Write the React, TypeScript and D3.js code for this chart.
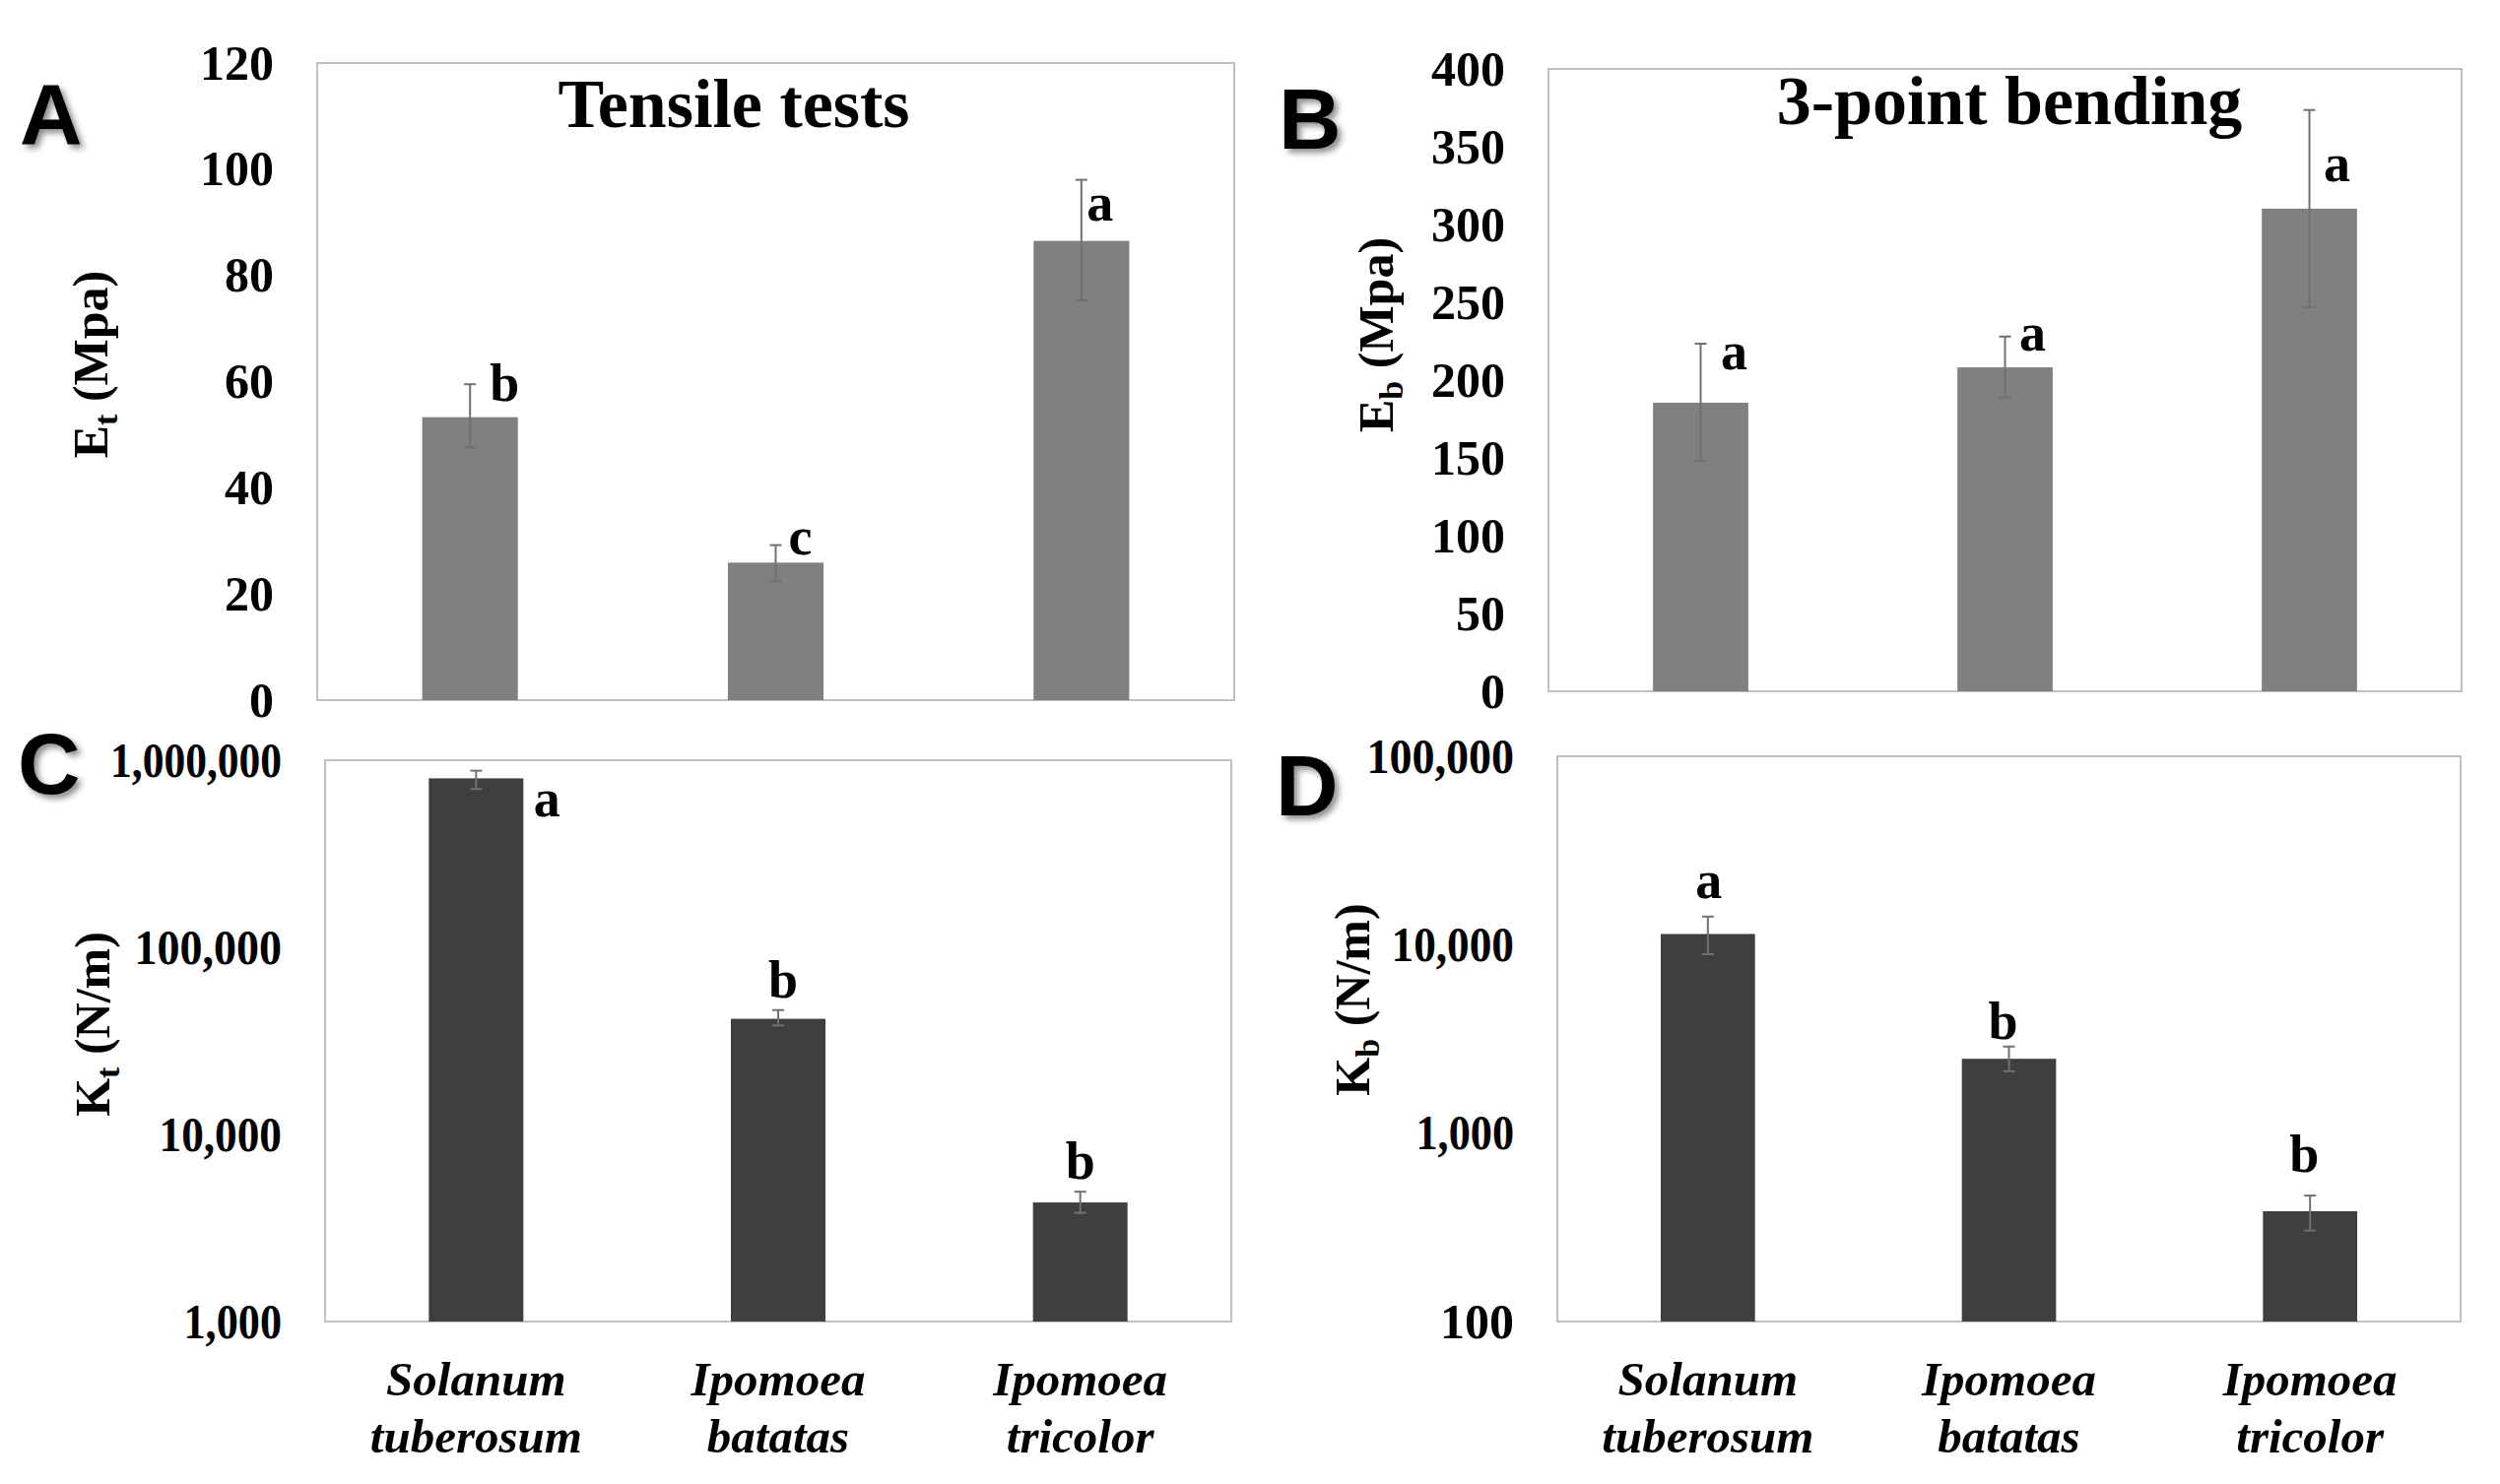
import React, { useEffect, useRef } from 'react';
import * as d3 from 'd3';

// species shown on the x axis (two lines each)
const categories = [
  ['Solanum', 'tuberosum'],
  ['Ipomoea', 'batatas'],
  ['Ipomoea', 'tricolor'],
];

// A: tensile modulus E_t (MPa)
const tensileE = [53.3, 25.9, 86.5];
const tensileELow = [47.6, 22.4, 75.3];
const tensileEHigh = [59.5, 29.2, 98.0];
const tensileELetters = ['b', 'c', 'a'];

// B: bending modulus E_b (MPa)
const bendingE = [185.5, 208.2, 310.2];
const bendingELow = [148.2, 189.0, 246.8];
const bendingEHigh = [223.4, 228.0, 373.6];
const bendingELetters = ['a', 'a', 'a'];

// C: tensile stiffness K_t (N/m)
const tensileK = [800000, 41500, 4330];
const tensileKLow = [702000, 38200, 3810];
const tensileKHigh = [879000, 46200, 4940];
const tensileKLetters = ['a', 'b', 'b'];

// D: bending stiffness K_b (N/m)
const bendingK = [11400, 2480, 385];
const bendingKLow = [8900, 2130, 304];
const bendingKHigh = [14100, 2880, 466];
const bendingKLetters = ['a', 'b', 'b'];

const ticksA = [0, 20, 40, 60, 80, 100, 120];
const ticksB = [0, 50, 100, 150, 200, 250, 300, 350, 400];
const ticksC = [1000, 10000, 100000, 1000000];
const ticksD = [100, 1000, 10000, 100000];

const SERIF = "'Liberation Serif', 'Times New Roman', serif";
const SANS = "'Liberation Sans', Arial, sans-serif";

const panels = [
  {
    tag: 'A', tagAt: [20, 146],
    box: { left: 322, right: 1253, top: 64, bottom: 711 },
    log: false, domain: [0, 120], ticks: ticksA, fmt: d3.format('d'),
    values: tensileE, low: tensileELow, high: tensileEHigh, letters: tensileELetters,
    letterOff: [[35, 17], [25, 9], [19, 41]],
    fill: '#808080',
    title: 'Tensile tests', titleAt: [745, 129],
    yLabel: ['E', 't', ' (Mpa)'], yLabelAt: [109, 370],
    showCats: false,
  },
  {
    tag: 'B', tagAt: [1298, 151],
    box: { left: 1572, right: 2499, top: 70, bottom: 702 },
    log: false, domain: [0, 400], ticks: ticksB, fmt: d3.format('d'),
    values: bendingE, low: bendingELow, high: bendingEHigh, letters: bendingELetters,
    letterOff: [[34, 26], [28, 14], [28, 72]],
    fill: '#808080',
    title: '3-point bending', titleAt: [2040, 126],
    yLabel: ['E', 'b', ' (Mpa)'], yLabelAt: [1414, 340],
    showCats: false,
  },
  {
    tag: 'C', tagAt: [18, 806],
    box: { left: 330, right: 1250, top: 772, bottom: 1342 },
    log: true, domain: [1000, 1000000], ticks: ticksC, fmt: d3.format(','),
    values: tensileK, low: tensileKLow, high: tensileKHigh, letters: tensileKLetters,
    letterOff: [[72, 46], [5, -13], [0, -13]],
    fill: '#3f3f3f',
    title: null, titleAt: [0, 0],
    yLabel: ['K', 't', ' (N/m)'], yLabelAt: [111, 1040],
    showCats: true,
  },
  {
    tag: 'D', tagAt: [1295, 828],
    box: { left: 1581, right: 2498, top: 768, bottom: 1342 },
    log: true, domain: [100, 100000], ticks: ticksD, fmt: d3.format(','),
    values: bendingK, low: bendingKLow, high: bendingKHigh, letters: bendingKLetters,
    letterOff: [[1, -19], [-6, -8], [-6, -24]],
    fill: '#3f3f3f',
    title: null, titleAt: [0, 0],
    yLabel: ['K', 'b', ' (N/m)'], yLabelAt: [1390, 1015],
    showCats: true,
  },
];

const App: React.FC = () => {
  const ref = useRef<SVGSVGElement>(null);

  useEffect(() => {
    const svg = d3.select(ref.current);
    svg.selectAll('*').remove();

    const defs = svg.append('defs');
    defs.append('filter')
      .attr('id', 'tagShadow')
      .attr('x', '-30%').attr('y', '-30%')
      .attr('width', '160%').attr('height', '160%')
      .append('feDropShadow')
      .attr('dx', 4).attr('dy', 4)
      .attr('stdDeviation', 3)
      .attr('flood-color', '#000')
      .attr('flood-opacity', 0.45);

    panels.forEach(p => {
      const g = svg.append('g');
      const { left, right, top, bottom } = p.box;

      const x = d3.scaleBand()
        .domain(categories.map(c => c.join(' ')))
        .range([left, right])
        .paddingInner(0.687)
        .paddingOuter(0.3435);

      const y = p.log
        ? d3.scaleLog().domain(p.domain).range([bottom, top])
        : d3.scaleLinear().domain(p.domain).range([bottom, top]);

      // plot frame
      g.append('rect')
        .attr('x', left).attr('y', top)
        .attr('width', right - left).attr('height', bottom - top)
        .attr('fill', 'none')
        .attr('stroke', '#c0c0c0')
        .attr('stroke-width', 2);

      // y axis labels, no tick marks
      const axis = g.append('g')
        .attr('transform', `translate(${left},0)`)
        .call(d3.axisLeft(y as any).tickValues(p.ticks).tickFormat(p.fmt as any).tickSize(0).tickPadding(44));
      axis.select('.domain').remove();
      axis.selectAll<SVGTextElement, number>('text')
        .attr('font-family', SERIF)
        .attr('font-size', 50)
        .attr('font-weight', 'bold')
        .attr('fill', '#000')
        .each(function () {
          // the original packs the thousands separators tightly between digits
          const label = this.textContent || '';
          const commas = (label.match(/,/g) || []).length;
          if (!commas) return;
          const natural = this.getComputedTextLength();
          d3.select(this)
            .attr('textLength', natural - 13 * commas)
            .attr('lengthAdjust', 'spacingAndGlyphs');
        });

      const cats = categories.map(c => c.join(' '));
      const base = y(p.domain[0]);

      g.selectAll('rect.bar')
        .data(p.values)
        .enter()
        .append('rect')
        .attr('class', 'bar')
        .attr('x', (d, i) => x(cats[i])!)
        .attr('width', x.bandwidth())
        .attr('y', d => y(d))
        .attr('height', d => base - y(d))
        .attr('fill', p.fill);

      // error bars
      const cap = 6;
      p.values.forEach((d, i) => {
        const cx = x(cats[i])! + x.bandwidth() / 2;
        const eg = g.append('g').attr('stroke', '#707070').attr('stroke-width', 2);
        eg.append('line').attr('x1', cx).attr('x2', cx).attr('y1', y(p.low[i])).attr('y2', y(p.high[i]));
        eg.append('line').attr('x1', cx - cap).attr('x2', cx + cap).attr('y1', y(p.high[i])).attr('y2', y(p.high[i]));
        eg.append('line').attr('x1', cx - cap).attr('x2', cx + cap).attr('y1', y(p.low[i])).attr('y2', y(p.low[i]));

        // significance letter
        g.append('text')
          .attr('x', cx + p.letterOff[i][0])
          .attr('y', y(p.high[i]) + p.letterOff[i][1])
          .attr('text-anchor', 'middle')
          .attr('font-family', SERIF)
          .attr('font-size', 54)
          .attr('font-weight', 'bold')
          .text(p.letters[i]);
      });

      if (p.title) {
        g.append('text')
          .attr('x', p.titleAt[0]).attr('y', p.titleAt[1])
          .attr('text-anchor', 'middle')
          .attr('font-family', SERIF)
          .attr('font-size', 70)
          .attr('font-weight', 'bold')
          .text(p.title);
      }

      // rotated axis title with subscript
      const yl = g.append('text')
        .attr('transform', `translate(${p.yLabelAt[0]},${p.yLabelAt[1]}) rotate(-90)`)
        .attr('text-anchor', 'middle')
        .attr('font-family', SERIF)
        .attr('font-size', 50)
        .attr('font-weight', 'bold');
      yl.append('tspan').text(p.yLabel[0]);
      yl.append('tspan').attr('dy', 10).attr('font-size', 34).text(p.yLabel[1]);
      yl.append('tspan').attr('dy', -10).text(p.yLabel[2]);

      if (p.showCats) {
        categories.forEach((c, i) => {
          const cx = x(cats[i])! + x.bandwidth() / 2;
          const t = g.append('text')
            .attr('text-anchor', 'middle')
            .attr('font-family', SERIF)
            .attr('font-size', 49)
            .attr('font-weight', 'bold')
            .attr('font-style', 'italic');
          t.append('tspan').attr('x', cx).attr('y', bottom + 75).text(c[0]);
          t.append('tspan').attr('x', cx).attr('y', bottom + 133).text(c[1]);
        });
      }

      // panel tag
      g.append('text')
        .attr('x', p.tagAt[0]).attr('y', p.tagAt[1])
        .attr('font-family', SANS)
        .attr('font-size', 88)
        .attr('font-weight', 'bold')
        .attr('filter', 'url(#tagShadow)')
        .text(p.tag);
    });
  }, []);

  return (
    <svg
      ref={ref}
      width={2538}
      height={1507}
      style={{ position: 'absolute', left: 0, top: 0, background: '#fff' }}
    />
  );
};

export default App;
